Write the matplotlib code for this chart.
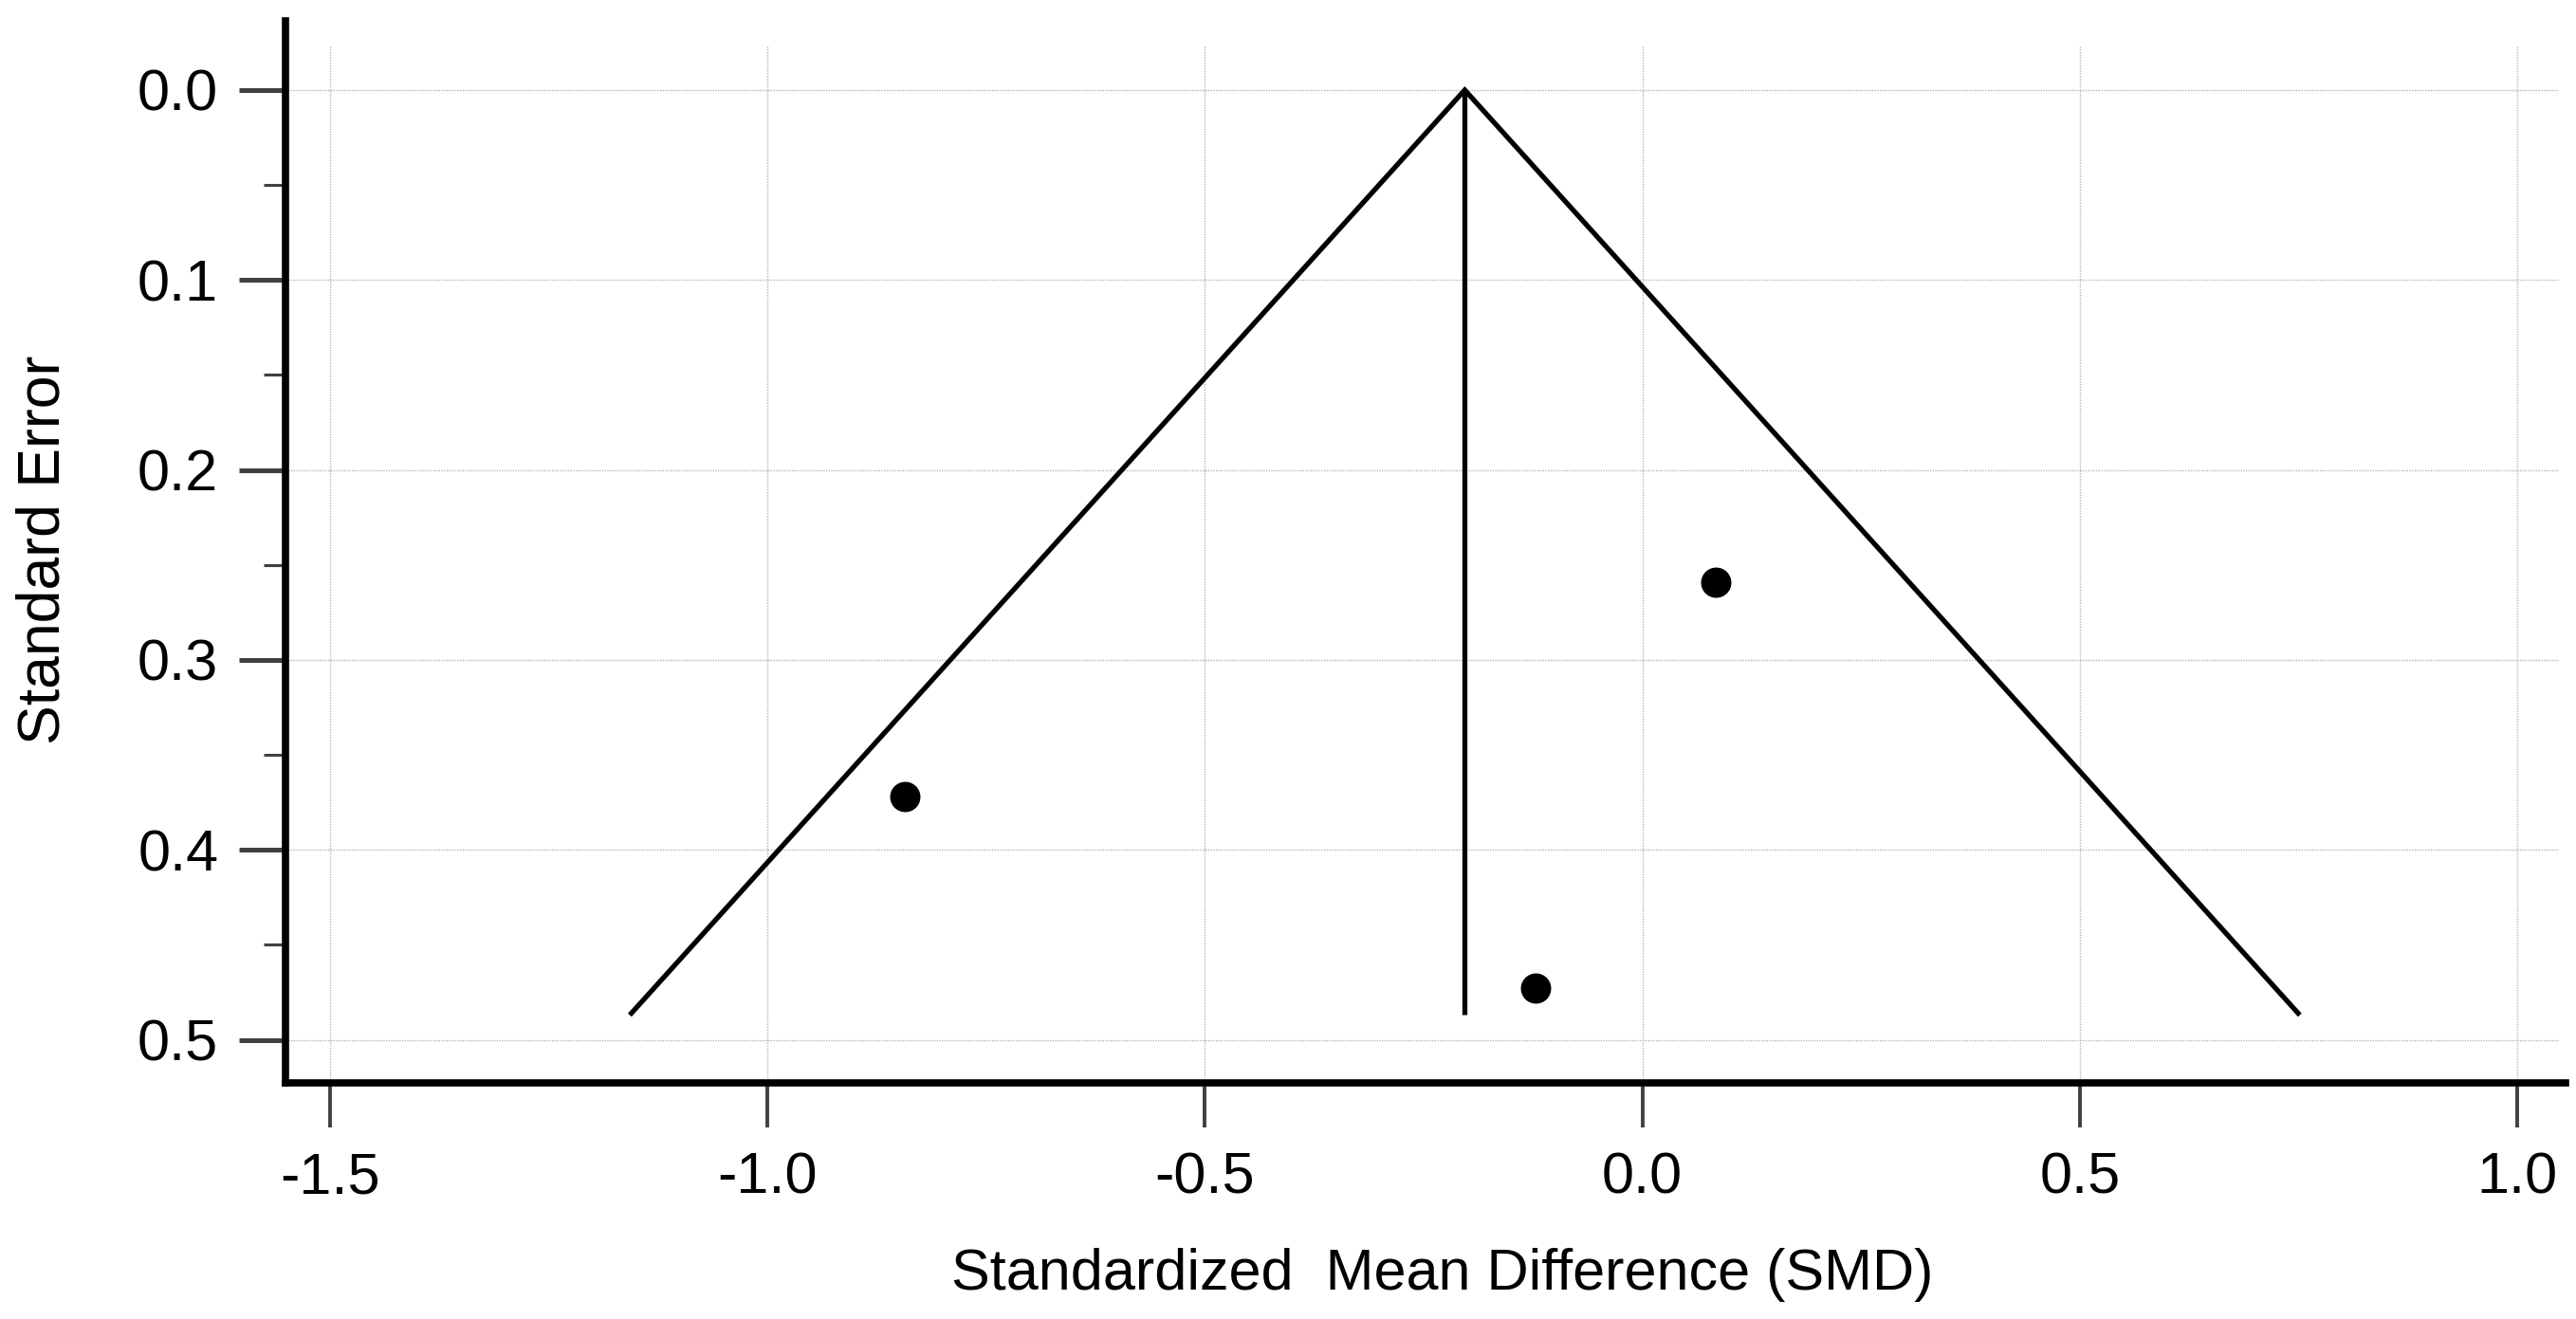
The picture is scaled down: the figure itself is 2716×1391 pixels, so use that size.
import matplotlib
matplotlib.use("Agg")
import matplotlib.pyplot as plt
from matplotlib.ticker import FixedLocator, FormatStrFormatter

# ---- data ----
pooled_smd = -0.203
se_max = 0.487
z_crit = 1.96
study_smd = [-0.843, 0.084, -0.122]
study_se = [0.372, 0.259, 0.473]
x_ticks = [-1.5, -1.0, -0.5, 0.0, 0.5, 1.0]
y_ticks = [0.0, 0.1, 0.2, 0.3, 0.4, 0.5]
y_minor_ticks = [0.05, 0.15, 0.25, 0.35, 0.45]
x_label = "Standardized  Mean Difference (SMD)"
y_label = "Standard Error"

plt.rcParams['font.family'] = ['Liberation Sans', 'DejaVu Sans']
plt.rcParams['axes.unicode_minus'] = False

W, H, DPI = 2716, 1391, 100
fig = plt.figure(figsize=(W / DPI, H / DPI), dpi=DPI)
ax = fig.add_axes([301 / W, 1 - 1142 / H, (2705 - 301) / W, (1142 - 22) / H])

xlim = (-1.551, 1.0553)
ylim = (0.5227, -0.0364)
ax.set_xlim(*xlim)
ax.set_ylim(*ylim)

grid_col = '#b4b4b4'
for yv in y_ticks:
    ax.plot([xlim[0], 1.048], [yv, yv], color=grid_col, lw=1.0,
            ls=(0, (1, 1)), zorder=1)
for xv in x_ticks:
    ax.plot([xv, xv], [-0.023, ylim[0]], color=grid_col, lw=1.0,
            ls=(0, (1, 1)), zorder=1)

# funnel
lo = pooled_smd - z_crit * se_max
hi = pooled_smd + z_crit * se_max
ax.plot([lo, pooled_smd, hi], [se_max, 0.0, se_max], color='black', lw=3.8,
        solid_joinstyle='miter', solid_capstyle='butt', zorder=3)
ax.plot([pooled_smd, pooled_smd], [0.0, se_max], color='black', lw=3.8,
        solid_capstyle='butt', zorder=3)

# studies
ax.plot(study_smd, study_se, marker='o', color='black', ms=22, mec='black',
        linestyle='none', zorder=4)

for s in ['top', 'right']:
    ax.spines[s].set_visible(False)
for s in ['left', 'bottom']:
    ax.spines[s].set_linewidth(5.5)
    ax.spines[s].set_color('black')
    ax.spines[s].set_capstyle('projecting')

ax.xaxis.set_major_locator(FixedLocator(x_ticks))
ax.yaxis.set_major_locator(FixedLocator(y_ticks))
ax.yaxis.set_minor_locator(FixedLocator(y_minor_ticks))
ax.xaxis.set_major_formatter(FormatStrFormatter('%.1f'))
ax.yaxis.set_major_formatter(FormatStrFormatter('%.1f'))

tick_col = '#404040'
ax.tick_params(axis='x', which='major', direction='out', length=34, width=2.8,
               color=tick_col, labelsize=44, pad=18, labelcolor='black')
ax.tick_params(axis='y', which='major', direction='out', length=35, width=3.6,
               color=tick_col, labelsize=44, pad=16, labelcolor='black')
ax.tick_params(axis='y', which='minor', direction='out', length=16.5, width=2.2,
               color=tick_col)

fig.text(1521 / W, 1 - 1360 / H, x_label, ha='center', va='baseline',
         fontsize=44, color='black')
fig.text(63 / W, 1 - 580 / H, y_label, ha='center', va='baseline',
         rotation=90, rotation_mode='anchor', fontsize=45, color='black')

fig.savefig('out.png', dpi=DPI, facecolor='white')
